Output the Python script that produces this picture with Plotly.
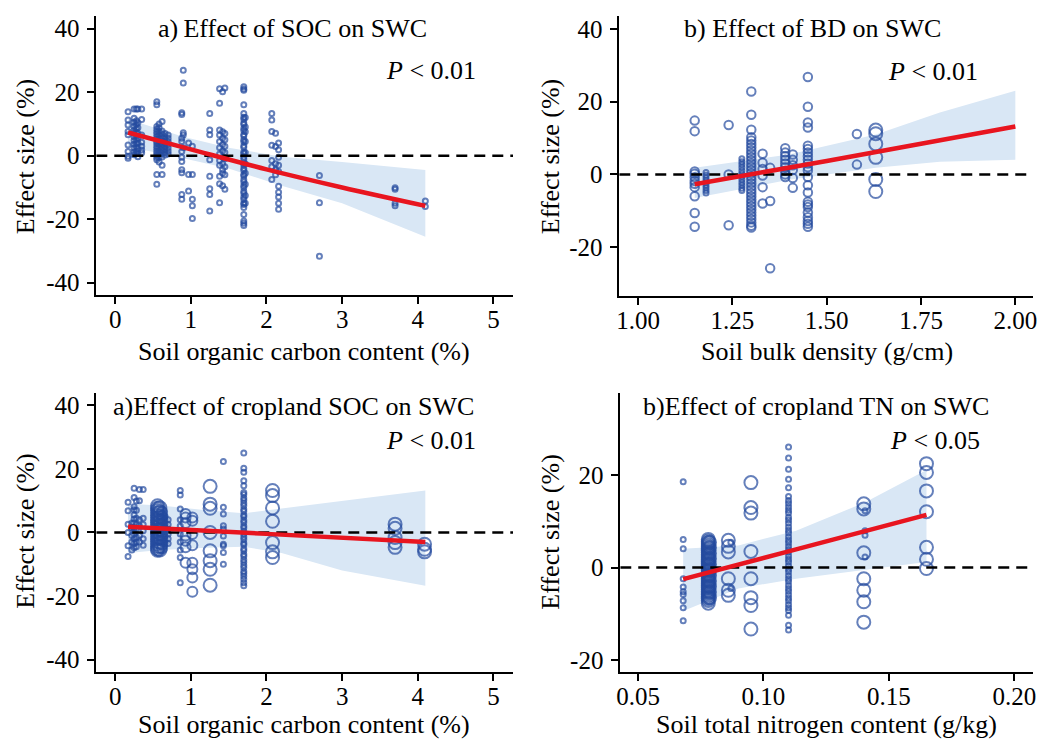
import plotly.graph_objects as go

# ---------------- data ----------------
# Panel 1: Effect of SOC on SWC
p1_cx = [0.17, 0.25, 0.28, 0.30, 0.35, 0.55, 0.58, 0.62, 0.66, 0.70, 0.88, 0.90, 0.97, 1.02,
         1.25, 1.38, 1.42, 1.45, 1.70, 1.72, 2.07, 2.12, 2.16, 2.70, 3.70, 4.10]
p1_cy = [
    [13.8, 11.2, 9.7, 7.6, 6.6, 3.4, 1.3, -0.2, -0.8],
    [14.7, 11.8, 10.5, 9.2, 8.0, 7.1, 6.0, 4.8, 3.6, 2.4, 1.2, 0.3],
    [14.7, 11.0, 9.8, 8.5, 7.4, 6.2, 5.0, 3.9, 2.8, 1.5, 0.6],
    [14.7, 10.4, 8.8, 7.0, 5.6, 4.0, 2.2, 0.8, -0.3],
    [14.7, 11.4, 6.5, 4.2, 3.0, 1.8, 0.9],
    [17.0, 16.0, 9.2, 8.3, 7.5, 6.8, 6.0, 5.2, 4.5, 3.8, 3.0, 2.3, 1.5, 0.8, 0.1, -0.6, -1.3, -5.9, -9.0],
    [10.0, 8.8, 7.6, 6.5, 5.5, 4.5, 3.5, 2.5, 1.5, 0.5, -0.5, -2.0],
    [10.8, 7.8, 6.8, 5.7, 4.6, 3.6, 2.6, 1.6, 0.6, -0.4, -3.0, -5.9],
    [7.0, 6.0, 5.0, 4.0, 3.0, 2.0, 1.0, 0.2],
    [6.5, 5.5, 4.5, 3.5, 2.5, 1.5, 0.5],
    [13.5, 13.0, 5.5, 4.5, 1.3, -0.5, -1.8, -4.4, -5.4, -12.2, -13.75],
    [26.9, 22.9, 7.2, 6.5, 2.5],
    [4.0, -5.9, -11.1],
    [3.0, -5.9, -13.75, -15.8, -19.8],
    [13.3, 8.1, 6.6, -1.25, -6.5, -10.4, -12.2, -17.4],
    [21.1, 16.5, 8.1, 6.5, 4.5, 2.5, 0.5, -1.5, -3.0, -6.5, -8.8, -14.8],
    [20.1, 7.5, 5.5, 3.5, 1.5, -0.5, -2.5, -4.4, -5.5, -9.5],
    [21.3, 7.0, 5.0, 3.0, 1.0, -1.0, -3.5, -6.0, -10.6],
    [21.7, 21.0, 20.6, 16.0, 13.3, 12.1, 11.5, 10.3, 9.8, 8.6, 7.9, 6.7, 6.2, 5.0, 4.4, 3.1, 2.6,
     1.2, 0.7, -0.4, -1.1, -2.3, -2.9, -4.0, -4.7, -5.9, -6.4, -7.6, -8.3, -9.4, -10.0, -11.2,
     -11.8, -13.0, -13.7, -14.9, -15.4, -16.3, -18.5, -20.6, -21.3, -22.0],
    [12.0, 9.0, 7.5, 4.5, 1.0, -2.5, -5.5, -9.0, -12.5, -15.0],
    [13.3, 11.25, 7.6, 3.3, -1.5, -3.5, -7.5],
    [7.1, 2.9, -2.5, -4.5, -6.0],
    [4.0, 1.9, -0.5, -3.0, -5.0, -9.6, -11.5, -13.0, -15.0, -16.9],
    [-6.25, -14.8, -31.7],
    [-10.1, -10.6, -15.0, -15.8],
    [-14.3, -16.0],
]
p1_cw = [1] * len(p1_cx)
p1_fit_x = [0.17, 1.0, 2.0, 3.0, 4.1]
p1_fit_y = [7.3, 2.0, -4.3, -10.0, -15.8]
p1_ci_x = [0.17, 0.9, 1.5, 2.2, 3.0, 4.1]
p1_ci_hi = [11.5, 6.0, 2.5, -0.3, -2.0, -4.5]
p1_ci_lo = [2.8, -0.8, -4.0, -9.5, -15.0, -25.5]

# Panel 2: Effect of BD on SWC
p2_cx = [1.15, 1.18, 1.24, 1.275, 1.30, 1.33, 1.35, 1.39, 1.41, 1.45, 1.58, 1.63]
p2_cy = [
    [14.8, 11.9, 0.8, 0.2, -0.8, -1.8, -2.6, -3.5, -6.0, -10.6, -14.4],
    [0.5, -0.2, -0.9, -1.6, -2.3, -3.0, -3.7, -4.4, -5.1],
    [13.6, 0.0, -14.0],
    [4.3, 3.5, 2.7, 1.9, 1.0, 0.2, -0.6, -1.4, -2.2, -3.0, -3.8, -4.4],
    [22.8, 16.4, 12.3, 10.2, 9.3, 8.4, 7.5, 6.6, 5.7, 4.8, 3.9, 3.0, 2.1, 1.2, 0.3, -0.6, -1.5,
     -2.4, -3.3, -4.2, -5.1, -6.0, -6.9, -7.8, -8.7, -9.6, -10.5, -11.4, -12.3, -13.2, -14.1, -14.6],
    [5.7, 3.2, 1.5, -0.3, -3.5, -8.0],
    [1.8, -7.3, -25.8],
    [7.2, 6.0, 5.0, 4.0, 3.0, 2.0, 1.0, 0.0, -0.7],
    [5.5, 4.0, 2.5, 1.2, -1.0, -3.7],
    [26.8, 18.6, 14.3, 12.9, 7.9, 7.0, 6.0, 5.0, 4.0, 3.0, 2.0, 1.1, -0.7, -3.0, -5.0, -7.5,
     -8.3, -9.0, -10.5, -11.8, -12.8, -13.6, -14.4],
    [11.1, 2.7],
    [12.2, 11.2, 8.4, 4.7, -1.4, -4.7],
]
p2_cw = [2, 1, 2, 1, 2, 2, 2, 2, 2, 2, 2, 4]
p2_fit_x = [1.15, 1.5, 2.0]
p2_fit_y = [-2.7, 3.7, 13.2]
p2_ci_x = [1.15, 1.4, 1.63, 1.8, 2.0]
p2_ci_hi = [1.8, 5.5, 11.0, 17.0, 23.0]
p2_ci_lo = [-6.5, -1.5, 1.8, 3.5, 4.0]

# Panel 3: Effect of cropland SOC on SWC
p3_cx = [0.17, 0.22, 0.25, 0.28, 0.32, 0.37, 0.56, 0.59, 0.62, 0.66, 0.70, 0.86, 0.93, 1.02,
         1.255, 1.43, 1.70, 2.08, 3.70, 4.09]
p3_cy = [
    [9.5, 6.8, 2.6, 0.0, -4.2, -7.6],
    [3.0, 1.5, -1.0, -3.0, -5.5],
    [13.9, 11.0, 8.1, 7.1, 5.5, 4.2, 3.0, 1.5, 0.5, -0.5, -2.0, -3.5, -4.8],
    [9.9, 7.0, 4.5, 2.5, 1.0, -1.5, -3.0, -4.5],
    [13.5, 10.0, 4.0, 2.0, -1.0, -3.0],
    [13.5, 4.5, 2.5, 0.5, -2.0, -4.0],
    [8.4, 7.6, 6.9, 6.1, 5.4, 4.6, 3.9, 3.1, 2.4, 1.6, 0.9, 0.1, -0.6, -1.4, -2.1, -2.9, -3.6,
     -4.4, -5.1, -5.6],
    [7.8, 6.4, 5.0, 3.7, 2.3, 1.0, -0.4, -1.7, -3.1, -4.4, -5.5],
    [6.5, 5.2, 3.9, 2.6, 1.3, 0.0, -1.3, -2.6, -3.9, -5.0],
    [5.0, 3.8, 2.6, 1.4, 0.2, -1.0, -2.2, -3.4],
    [4.0, 2.5, 1.0, -0.5, -2.0, -3.5],
    [13.2, 11.8, 7.4, 4.0, 2.0, -0.5, -3.0, -5.5, -7.9, -15.8],
    [5.8, 4.7, 3.0, -1.0, -2.6, -4.7, -9.5],
    [4.7, 3.7, -0.5, -4.0, -9.5, -11.6, -14.2, -18.7],
    [14.5, 8.9, 7.6, 0.0, -5.8, -8.9, -11.6, -16.6],
    [22.3, 7.9, 5.8, 2.1, 1.1, -1.1, -3.7, -4.2, -6.3, -10.0],
    [25.0, 20.2, 18.9, 16.3, 14.7, 12.6, 11.9, 10.8, 10.1, 9.2, 8.4, 7.3, 6.7, 5.5, 4.9, 3.8,
     3.1, 2.0, 1.4, 0.3, -0.5, -1.4, -2.2, -3.3, -3.9, -5.1, -5.8, -6.9, -7.5, -8.6, -9.4,
     -10.3, -11.1, -12.2, -12.9, -13.8, -14.7, -15.8, -16.8],
    [13.2, 11.6, 7.7, 3.5, -3.2, -6.1, -7.9],
    [2.6, 1.3, -1.6, -3.2, -4.7],
    [-3.7, -5.3, -6.1],
]
p3_cw = [1, 1, 1, 1, 1, 1, 4, 4, 3, 1, 1, 1, 3, 3, 4, 1, 1, 4, 4, 4]
p3_fit_x = [0.17, 2.0, 4.1]
p3_fit_y = [1.8, -0.45, -3.0]
p3_ci_x = [0.17, 0.6, 1.2, 1.7, 2.2, 3.0, 4.1]
p3_ci_hi = [9.0, 8.5, 7.0, 6.0, 7.5, 10.0, 13.2]
p3_ci_lo = [-6.5, -5.5, -4.8, -4.5, -6.5, -12.0, -16.8]

# Panel 4: Effect of cropland TN on SWC
p4_cx = [0.068, 0.078, 0.0785, 0.086, 0.087, 0.095, 0.110, 0.140, 0.1405, 0.165]
p4_cy = [
    [18.6, 6.1, 4.1, -2.4, -4.2, -5.2, -5.8, -7.2, -8.7, -11.5],
    [6.1, 5.7, 5.3, 4.9, 4.5, 4.1, 3.7, 3.3, 2.9, 2.5, 2.1, 1.7, 1.3, 0.9, 0.5, 0.1, -0.3,
     -0.7, -1.1, -1.5, -1.9, -2.3, -2.7, -3.1, -3.5, -3.9, -4.3, -4.7, -5.1, -5.5, -5.9, -6.3,
     -6.7, -7.1, -7.7],
    [5.5, 4.3, 3.1, 1.9, 0.7, -0.5, -1.7, -2.9, -4.1, -5.3, -6.5],
    [5.9, 4.6, 3.4, -2.4, -4.9, -6.0],
    [5.5, -4.5],
    [18.4, 13.0, 11.8, 3.5, -2.4, -6.5, -8.2, -13.3],
    [26.1, 23.7, 21.3, 19.1, 17.3, 15.4, 14.5, 13.9, 13.1, 12.4, 11.8, 10.9, 10.3, 9.6, 8.8,
     8.1, 7.5, 6.7, 6.0, 5.4, 4.6, 3.9, 3.3, 2.5, 1.8, 1.2, 0.4, -0.3, -0.9, -1.7, -2.4, -3.0,
     -3.8, -4.5, -5.1, -5.9, -6.6, -7.2, -8.0, -8.7, -9.3, -10.3, -12.5, -13.5],
    [13.8, 12.7, 3.2, -2.4, -4.9, -7.4, -11.8],
    [12.3, 8.0, 7.0, 2.3],
    [22.5, 20.6, 16.6, 12.1, 4.4, 1.8, -0.2],
]
p4_cw = [1, 4, 4, 4, 1, 4, 1, 4, 1, 4]
p4_fit_x = [0.068, 0.110, 0.165]
p4_fit_y = [-2.5, 3.5, 11.4]
p4_ci_x = [0.068, 0.09, 0.113, 0.14, 0.165]
p4_ci_hi = [4.1, 4.8, 8.0, 14.0, 21.1]
p4_ci_lo = [-9.4, -4.5, -2.4, -0.5, 1.2]

# text
titles = ["a)\u2009Effect of SOC on SWC", "b) Effect of BD on SWC",
          "a)Effect of cropland SOC on SWC", "b)Effect of cropland TN on SWC"]
p_texts = ["<i>P</i> < 0.01", "<i>P</i> < 0.01", "<i>P</i> < 0.01", "<i>P</i> < 0.05"]
x_titles = ["Soil organic carbon content (%)", "Soil bulk density (g/cm)",
            "Soil organic carbon content (%)", "Soil total nitrogen content (g/kg)"]
y_title = "Effect size (%)"

soc_xticks = [0, 1, 2, 3, 4, 5]
soc_xticktext = ["0", "1", "2", "3", "4", "5"]
bd_xticks = [1.00, 1.25, 1.50, 1.75, 2.00]
bd_xticktext = ["1.00", "1.25", "1.50", "1.75", "2.00"]
tn_xticks = [0.05, 0.10, 0.15, 0.20]
tn_xticktext = ["0.05", "0.10", "0.15", "0.20"]
y40_ticks = [-40, -20, 0, 20, 40]
y40_ticktext = ["-40", "-20", "0", "20", "40"]
y_bd_ticks = [-20, 0, 20, 40]
y_bd_ticktext = ["-20", "0", "20", "40"]
y_tn_ticks = [-20, 0, 20]
y_tn_ticktext = ["-20", "0", "20"]

# ---------------- style ----------------
W, H = 1046, 741
FONT = "Liberation Serif, Times New Roman, serif"
BLUE = "#244a9e"
RED = "#e8151f"
RIBBON = "#d9e7f5"
SIZE_MAP = {1: 5, 2: 8.5, 3: 10, 4: 13}

panels = [
    dict(cx=p1_cx, cy=p1_cy, cw=p1_cw, fx=p1_fit_x, fy=p1_fit_y, rx=p1_ci_x, rhi=p1_ci_hi, rlo=p1_ci_lo,
         xdom=[93, 513], ydom=[15, 295], xr=[-0.25, 5.26], yr=[-43.8, 44.0],
         xt=(soc_xticks, soc_xticktext), yt=(y40_ticks, y40_ticktext)),
    dict(cx=p2_cx, cy=p2_cy, cw=p2_cw, fx=p2_fit_x, fy=p2_fit_y, rx=p2_ci_x, rhi=p2_ci_hi, rlo=p2_ci_lo,
         xdom=[620, 1037], ydom=[15, 296], xr=[0.95, 2.047], yr=[-33.4, 43.6],
         xt=(bd_xticks, bd_xticktext), yt=(y_bd_ticks, y_bd_ticktext)),
    dict(cx=p3_cx, cy=p3_cy, cw=p3_cw, fx=p3_fit_x, fy=p3_fit_y, rx=p3_ci_x, rhi=p3_ci_hi, rlo=p3_ci_lo,
         xdom=[93, 513], ydom=[394, 674], xr=[-0.25, 5.26], yr=[-44.0, 43.75],
         xt=(soc_xticks, soc_xticktext), yt=(y40_ticks, y40_ticktext)),
    dict(cx=p4_cx, cy=p4_cy, cw=p4_cw, fx=p4_fit_x, fy=p4_fit_y, rx=p4_ci_x, rhi=p4_ci_hi, rlo=p4_ci_lo,
         xdom=[621, 1037], ydom=[394, 674], xr=[0.0429, 0.2075], yr=[-22.65, 37.7],
         xt=(tn_xticks, tn_xticktext), yt=(y_tn_ticks, y_tn_ticktext)),
]

title_pos = [(291, 28), (815, 28), (292, 407), (818, 407)]
p_pos = [(478, 70), (984, 71), (478, 441), (986, 441)]
xtitle_pos = [(302, 352), (829, 352), (302, 726), (829, 726)]
ytitle_pos = [(22, 156), (551, 156), (22, 532), (551, 533)]

fig = go.Figure()
layout = dict(width=W, height=H, margin=dict(l=0, r=0, t=0, b=0),
              paper_bgcolor="white", plot_bgcolor="white", showlegend=False,
              font=dict(family=FONT, size=25, color="black"))
annotations = []

for i, p in enumerate(panels):
    k = "" if i == 0 else str(i + 1)
    xa, ya = "x" + k, "y" + k
    # ribbon
    fig.add_trace(go.Scatter(x=p["rx"] + p["rx"][::-1], y=p["rhi"] + p["rlo"][::-1],
                             fill="toself", fillcolor=RIBBON, line=dict(width=0),
                             mode="lines", hoverinfo="skip", xaxis=xa, yaxis=ya))
    # points
    px, py, ps = [], [], []
    for cx, cys, cw in zip(p["cx"], p["cy"], p["cw"]):
        for v in cys:
            px.append(cx)
            py.append(v)
            ps.append(SIZE_MAP[cw])
    fig.add_trace(go.Scatter(x=px, y=py, mode="markers",
                             marker=dict(symbol="circle-open", size=ps, color=BLUE,
                                         line=dict(width=2, color=BLUE)),
                             xaxis=xa, yaxis=ya))
    # dashed zero line
    fig.add_trace(go.Scatter(x=[p["xr"][0], p["xr"][1]], y=[0, 0], mode="lines",
                             line=dict(color="black", width=2.5, dash="11px,7px"),
                             hoverinfo="skip", xaxis=xa, yaxis=ya))
    # fit line
    fig.add_trace(go.Scatter(x=p["fx"], y=p["fy"], mode="lines",
                             line=dict(color=RED, width=4.5, shape="spline"),
                             xaxis=xa, yaxis=ya))

    xdom = [p["xdom"][0] / W, p["xdom"][1] / W]
    ydom = [1 - p["ydom"][1] / H, 1 - p["ydom"][0] / H]
    axis_common = dict(showline=True, linecolor="black", linewidth=1.6, ticks="outside",
                       ticklen=7, tickwidth=1.6, tickcolor="black", showgrid=False,
                       zeroline=False, tickfont=dict(family=FONT, size=25, color="black"),
                       fixedrange=True)
    layout["xaxis" + k] = dict(domain=xdom, range=p["xr"], anchor=ya, tickmode="array",
                               tickvals=p["xt"][0], ticktext=p["xt"][1],
                               ticklabelstandoff=-6, **axis_common)
    layout["yaxis" + k] = dict(domain=ydom, range=p["yr"], anchor=xa, tickmode="array",
                               tickvals=p["yt"][0], ticktext=p["yt"][1],
                               ticklabelstandoff=3, **axis_common)

    annotations.append(dict(text=titles[i], x=title_pos[i][0] / W, y=1 - title_pos[i][1] / H,
                            xref="paper", yref="paper", showarrow=False, xanchor="center",
                            yanchor="middle", font=dict(family=FONT, size=26)))
    annotations.append(dict(text=p_texts[i], x=p_pos[i][0] / W, y=1 - p_pos[i][1] / H,
                            xref="paper", yref="paper", showarrow=False, xanchor="right",
                            yanchor="middle", font=dict(family=FONT, size=26)))
    annotations.append(dict(text=x_titles[i], x=xtitle_pos[i][0] / W, y=1 - xtitle_pos[i][1] / H,
                            xref="paper", yref="paper", showarrow=False, xanchor="center",
                            yanchor="middle", font=dict(family=FONT, size=26)))
    annotations.append(dict(text=y_title, x=ytitle_pos[i][0] / W, y=1 - ytitle_pos[i][1] / H,
                            xref="paper", yref="paper", showarrow=False, xanchor="center",
                            yanchor="middle", textangle=-90, font=dict(family=FONT, size=26)))

layout["annotations"] = annotations
fig.update_layout(**layout)
fig.write_html("out.html")
